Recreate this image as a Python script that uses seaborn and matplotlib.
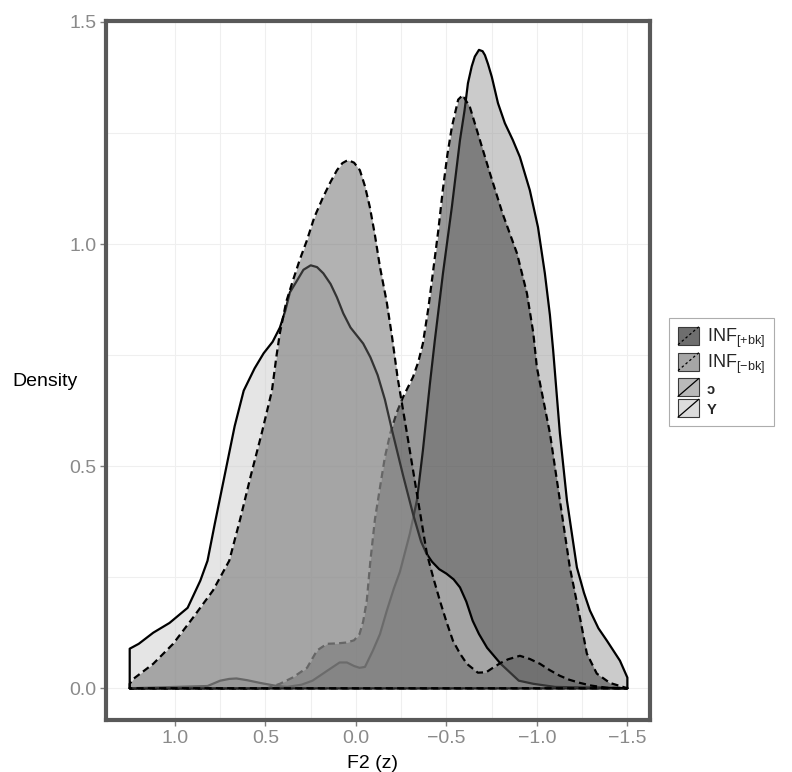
import numpy as np
import pandas as pd
import seaborn as sns
import matplotlib.pyplot as plt
from matplotlib.patches import Rectangle
from matplotlib.lines import Line2D
from matplotlib.legend_handler import HandlerBase

# density curves (F2 in z units, density)
y_f2 = [1.25, 1.20, 1.12, 1.03, 0.93, 0.86, 0.82, 0.78, 0.72, 0.67,
        0.62, 0.56, 0.51, 0.46, 0.42, 0.39, 0.365, 0.325, 0.29, 0.25,
        0.215, 0.18, 0.14, 0.105, 0.07, 0.03, -0.04, -0.08, -0.12, -0.16,
        -0.2, -0.26, -0.315, -0.36, -0.39, -0.42, -0.46, -0.5, -0.54, -0.575,
        -0.61, -0.645, -0.68, -0.725, -0.8, -0.9, -0.98, -1.1, -1.5]
y_dens = [0.089, 0.10, 0.125, 0.147, 0.181, 0.242, 0.287, 0.37, 0.49, 0.59,
          0.67, 0.72, 0.754, 0.78, 0.812, 0.85, 0.891, 0.918, 0.942, 0.952,
          0.948, 0.934, 0.91, 0.880, 0.844, 0.812, 0.776, 0.745, 0.705, 0.65,
          0.58, 0.48, 0.393, 0.33, 0.303, 0.285, 0.268, 0.258, 0.245, 0.227,
          0.195, 0.152, 0.122, 0.091, 0.055, 0.017, 0.01, 0.003, 0.0]

infm_f2 = [1.25, 1.23, 1.12, 1.01, 0.90, 0.79, 0.70, 0.64, 0.58, 0.52,
           0.464, 0.44, 0.42, 0.385, 0.348, 0.31, 0.271, 0.23, 0.182, 0.14,
           0.105, 0.075, 0.044, 0.01, -0.022, -0.05, -0.077, -0.105, -0.133, -0.17,
           -0.2, -0.23, -0.282, -0.337, -0.392, -0.43, -0.464, -0.5, -0.536, -0.575,
           -0.613, -0.674, -0.72, -0.757, -0.8, -0.84, -0.906, -0.96, -1.017, -1.07,
           -1.127, -1.18, -1.238, -1.3, -1.387, -1.5]
infm_dens = [0.01, 0.021, 0.055, 0.100, 0.159, 0.220, 0.287, 0.38, 0.48, 0.575,
             0.670, 0.745, 0.80, 0.87, 0.918, 0.965, 1.008, 1.06, 1.105, 1.14,
             1.166, 1.182, 1.189, 1.183, 1.166, 1.13, 1.083, 1.02, 0.948, 0.87,
             0.79, 0.70, 0.574, 0.438, 0.303, 0.245, 0.197, 0.15, 0.107, 0.078,
             0.055, 0.035, 0.036, 0.046, 0.057, 0.065, 0.073, 0.066, 0.055, 0.041,
             0.028, 0.019, 0.012, 0.006, 0.001, 0.0]

infp_f2 = [1.25, 0.49, 0.42, 0.35, 0.27, 0.215, 0.16, 0.1, 0.05, 0.01,
           -0.02, -0.04, -0.06, -0.08, -0.105, -0.133, -0.16, -0.19, -0.225, -0.26,
           -0.315, -0.345, -0.37, -0.4, -0.425, -0.455, -0.48, -0.505, -0.53, -0.565,
           -0.59, -0.63, -0.685, -0.74, -0.81, -0.89, -0.945, -0.98, -1.0, -1.035,
           -1.072, -1.127, -1.182, -1.238, -1.276, -1.331, -1.403, -1.5]
infp_dens = [0.0, 0.0, 0.01, 0.024, 0.046, 0.085, 0.100, 0.101, 0.103, 0.108,
             0.122, 0.15, 0.197, 0.287, 0.38, 0.452, 0.52, 0.574, 0.62, 0.655,
             0.700, 0.735, 0.776, 0.855, 0.934, 1.03, 1.121, 1.2, 1.263, 1.325,
             1.335, 1.308, 1.234, 1.160, 1.069, 0.979, 0.889, 0.80, 0.722, 0.65,
             0.574, 0.423, 0.272, 0.159, 0.078, 0.033, 0.012, 0.0]

oo_f2 = [1.25, 0.82, 0.75, 0.70, 0.66, 0.6, 0.53, 0.45, 0.38, 0.3,
         0.24, 0.16, 0.09, 0.05, 0.01, -0.02, -0.05, -0.094, -0.133, -0.171,
         -0.21, -0.243, -0.298, -0.337, -0.37, -0.409, -0.436, -0.481, -0.53, -0.575,
         -0.6, -0.619, -0.64, -0.657, -0.68, -0.7, -0.713, -0.73, -0.751, -0.785,
         -0.823, -0.867, -0.906, -0.961, -1.006, -1.044, -1.072, -1.09, -1.127, -1.166,
         -1.221, -1.26, -1.293, -1.34, -1.387, -1.459, -1.5]
oo_dens = [0.0, 0.005, 0.017, 0.021, 0.022, 0.018, 0.012, 0.006, 0.003, 0.008,
           0.017, 0.039, 0.058, 0.058, 0.05, 0.046, 0.048, 0.085, 0.122, 0.175,
           0.225, 0.262, 0.348, 0.423, 0.535, 0.686, 0.783, 0.934, 1.083, 1.234,
           1.30, 1.362, 1.40, 1.422, 1.437, 1.434, 1.425, 1.405, 1.376, 1.317,
           1.272, 1.234, 1.196, 1.121, 1.038, 0.934, 0.84, 0.76, 0.574, 0.423,
           0.272, 0.215, 0.175, 0.135, 0.107, 0.062, 0.024]

groups = ["INF$_{[+bk]}$", "INF$_{[-bk]}$", "ɔ", "Y"]
fills = ["#333333", "#666666", "#999999", "#cccccc"]
key_fills = ["#6e6e6e", "#a6a6a6", "#b9b9b9", "#dcdcdc"]
dashed = [True, True, False, False]
curves = {0: (infp_f2, infp_dens), 1: (infm_f2, infm_dens), 2: (oo_f2, oo_dens), 3: (y_f2, y_dens)}
draw_order = [2, 0, 3, 1]

sns.set_theme(style="white")
plt.rcParams['font.family'] = ['Liberation Sans', 'DejaVu Sans']
plt.rcParams['mathtext.default'] = 'regular'

fig = plt.figure(figsize=(7.92, 7.72), dpi=100)
ax = fig.add_axes([106 / 792, 1 - 720 / 772, 544 / 792, 699 / 772])

dash_pat = (0, (3.2, 1.9))
for k, gi in enumerate(draw_order):
    xs, ds = curves[gi]
    z = 3 + 2 * k
    ax.fill_between(xs, ds, 0, color=fills[gi], alpha=0.5, lw=0, zorder=z)
    outline = pd.DataFrame({"F2": [xs[0]] + xs + [xs[-1], xs[0]],
                            "Density": [0] + ds + [0, 0]})
    sns.lineplot(data=outline, x="F2", y="Density", sort=False, estimator=None,
                 color="black", lw=1.6, linestyle=dash_pat if dashed[gi] else "-",
                 zorder=z + 1, ax=ax)

ax.set_xlim(1.381, -1.625)
ax.set_ylim(-0.0715, 1.502)

xt = [1.0, 0.5, 0.0, -0.5, -1.0, -1.5]
xt_labels = ["1.0", "0.5", "0.0", "\u22120.5", "\u22121.0", "\u22121.5"]
yt = [0.0, 0.5, 1.0, 1.5]
yt_labels = ["0.0", "0.5", "1.0", "1.5"]
ax.set_xticks(xt)
ax.set_xticklabels(xt_labels)
ax.set_yticks(yt)
ax.set_yticklabels(yt_labels)
ax.set_xticks([0.75, 0.25, -0.25, -0.75, -1.25], minor=True)
ax.set_yticks([0.25, 0.75, 1.25], minor=True)
ax.grid(True, which="both", color="#efefef", lw=0.8, zorder=0)
ax.set_axisbelow(True)
ax.tick_params(which="major", length=4, width=1, color="#7f7f7f", direction="out",
               labelsize=14, labelcolor="#8a8a8a", pad=3, bottom=True, left=True)
ax.tick_params(which="minor", length=0)
for s in ax.spines.values():
    s.set_color("#595959")
    s.set_linewidth(3)
    s.set_zorder(20)

ax.set_xlabel("F2 (z)", fontsize=14, color="black")
ax.xaxis.set_label_coords(0.49, (720 - 763) / 699)
ax.xaxis.label.set_va("center")
ax.set_ylabel("Density", fontsize=14, color="black", rotation=0, ha="left", va="center")
ax.yaxis.set_label_coords((12 - 106) / 544, (720 - 381) / 699)


class DiagKey(HandlerBase):
    def create_artists(self, legend, orig_handle, xdescent, ydescent, width, height, fontsize, trans):
        fc, is_dashed = orig_handle
        r = Rectangle((-xdescent, -ydescent), width, height, facecolor=fc,
                      edgecolor="#3a3a3a", lw=0.8, transform=trans)
        ln = Line2D([-xdescent, -xdescent + width], [-ydescent, -ydescent + height],
                    color="black", lw=0.9, linestyle=(0, (2, 2)) if is_dashed else "-",
                    transform=trans)
        return [r, ln]


handles = [(key_fills[i], dashed[i]) for i in range(4)]
leg = fig.legend(handles, groups, handler_map={tuple: DiagKey()}, loc="center left",
                 bbox_to_anchor=(669 / 792, 1 - 372 / 772), bbox_transform=fig.transFigure,
                 fontsize=13, handlelength=1.15, handleheight=1.15, labelspacing=0.15,
                 handletextpad=0.45, borderpad=0.5, borderaxespad=0, frameon=True,
                 fancybox=False)
leg.get_frame().set_edgecolor("#999999")
leg.get_frame().set_linewidth(0.8)
for t in leg.get_texts()[2:]:
    t.set_fontsize(10.5)
    t.set_fontweight("bold")

plt.savefig("out.png", dpi=100)
